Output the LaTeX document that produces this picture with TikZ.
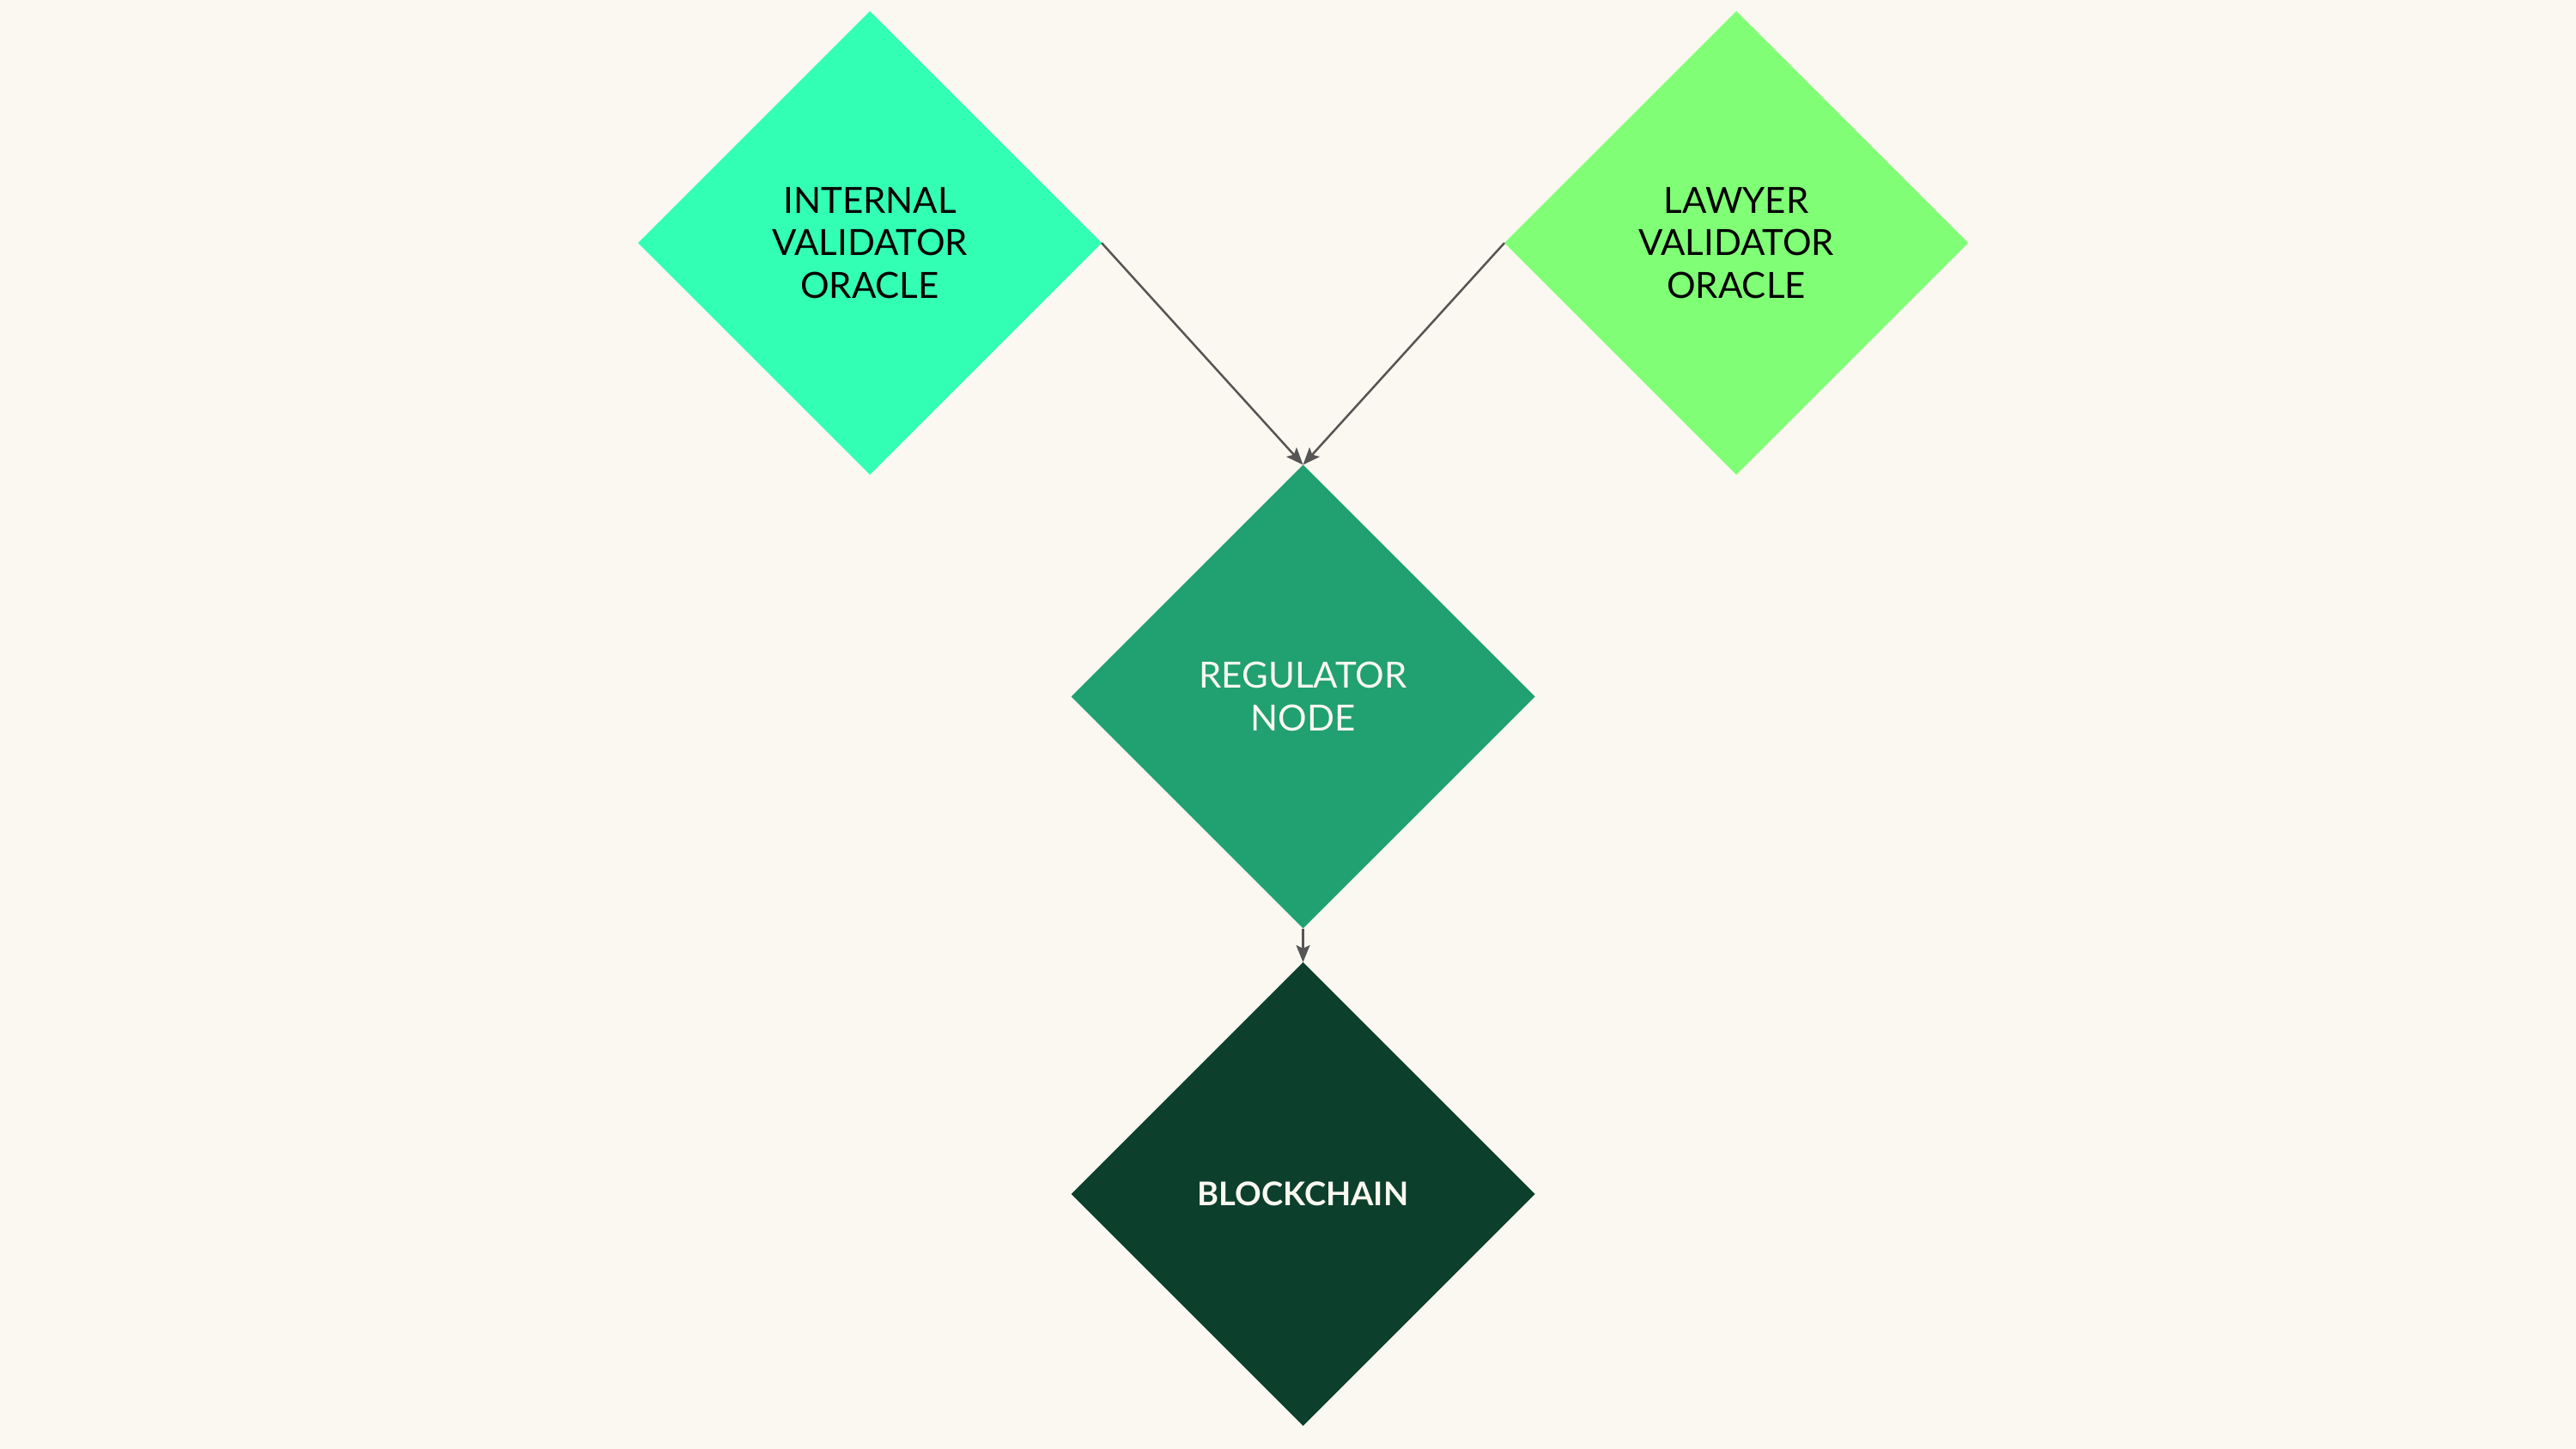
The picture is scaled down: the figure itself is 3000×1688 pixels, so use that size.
\documentclass[tikz,border=0pt]{standalone}
\usepackage{fontspec}
\setmainfont{Lato}
\usetikzlibrary{shapes.geometric,arrows.meta}
\definecolor{bgc}{HTML}{FAF8F0}
\definecolor{mint}{HTML}{33FFB4}
\definecolor{lime}{HTML}{80FF76}
\definecolor{regc}{HTML}{21A071}
\definecolor{chainc}{HTML}{0D3F2D}
\definecolor{arrc}{HTML}{555555}
\definecolor{ltext}{HTML}{FAF8F0}
\tikzset{
  dia/.style={diamond, aspect=1, inner sep=0pt, outer sep=0pt, minimum width=540pt, minimum height=540pt, draw=none, align=center, font=\fontsize{42}{49.5}\selectfont},
  conn/.style={draw=arrc, line width=2.5pt, -{Stealth[length=20pt,width=16pt,inset=4pt]}}
}
\begin{document}
\begin{tikzpicture}[x=1pt,y=-1pt]
\fill[bgc] (0,0) rectangle (3000,1688);
\useasboundingbox (0,0) rectangle (3000,1688);
\node[dia, fill=mint, text=black] (int) at (1013,283) {INTERNAL\\VALIDATOR\\ORACLE};
\node[dia, fill=lime, text=black] (law) at (2022,283) {LAWYER\\VALIDATOR\\ORACLE};
\node[dia, fill=regc, text=ltext] (reg) at (1517.5,811.5) {REGULATOR\\NODE};
\node[dia, fill=chainc, text=ltext, font=\fontsize{38}{45}\selectfont\bfseries] (bc) at (1517.5,1391) {BLOCKCHAIN};
\draw[conn] (int.east) -- (reg.north);
\draw[conn] (law.west) -- (reg.north);
\draw[conn] (reg.south) -- (bc.north);
\end{tikzpicture}
\end{document}
